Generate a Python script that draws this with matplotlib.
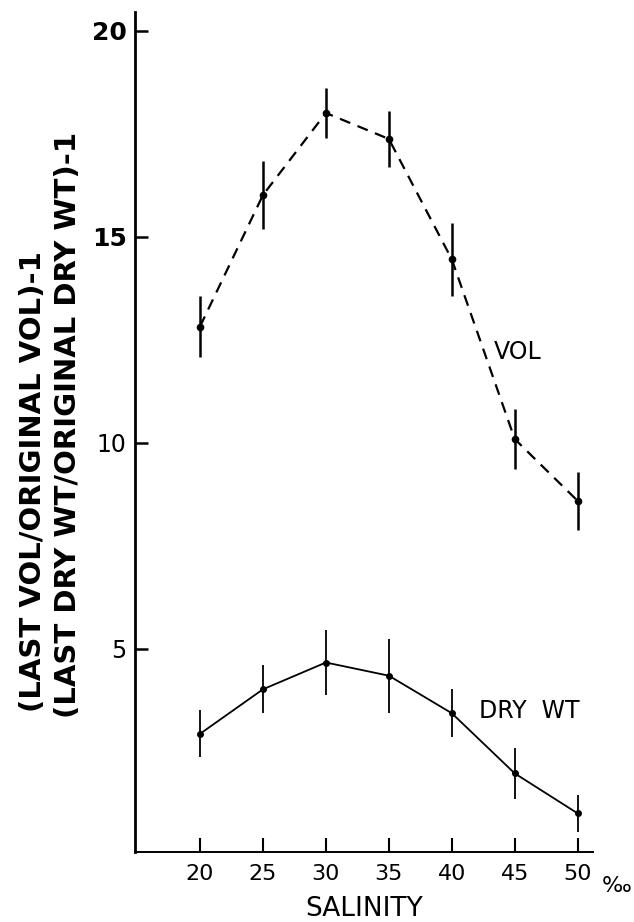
import matplotlib
matplotlib.use('Agg')
import matplotlib.pyplot as plt
import matplotlib.transforms as mtransforms

# salinity (per mille)
salinity = [20, 25, 30, 35, 40, 45, 50]

# (last vol / original vol) - 1
vol = [12.82, 16.01, 18.0, 17.37, 14.45, 10.09, 8.59]
vol_err = [0.73, 0.83, 0.6, 0.68, 0.89, 0.73, 0.7]

# (last dry wt / original dry wt) - 1
dry_wt = [2.94, 4.02, 4.67, 4.35, 3.44, 1.98, 1.01]
dry_wt_err = [0.57, 0.58, 0.8, 0.9, 0.58, 0.62, 0.45]

y_ticks = [5, 10, 15, 20]

plt.rcParams['font.family'] = ['DejaVu Sans']

fig = plt.figure(figsize=(6.34, 9.22), dpi=100)
ax = fig.add_axes([0.213, 0.076, 0.722, 0.911])

ax.errorbar(salinity, vol, yerr=vol_err, color='k', linestyle=(0, (5, 3.5)),
            linewidth=1.6, elinewidth=1.8, capsize=0, marker='o', markersize=4.5)
ax.errorbar(salinity, dry_wt, yerr=dry_wt_err, color='k', linestyle='-',
            linewidth=1.3, elinewidth=1.3, capsize=0, marker='o', markersize=4)

ax.text(43.3, 12.2, 'VOL', fontsize=17, ha='left', va='center')
ax.text(42.2, 3.5, 'DRY  WT', fontsize=17, ha='left', va='center')

ax.set_xlim(14.84, 51.2)
ax.set_ylim(0.075, 20.45)
ax.set_xticks(salinity)
ax.set_xticklabels([str(s) for s in salinity], fontsize=16)
ax.set_yticks(y_ticks)
ax.set_yticklabels([str(t) for t in y_ticks], fontsize=17)
for lbl in ax.get_yticklabels():
    if lbl.get_text() in ('15', '20'):
        lbl.set_fontweight('bold')
        lbl.set_fontsize(18)

ax.tick_params(axis='x', direction='in', length=10, width=1.5, pad=9)
ax.tick_params(axis='y', direction='in', length=9, width=1.8, pad=6)

for side in ['top', 'right']:
    ax.spines[side].set_visible(False)
ax.spines['left'].set_linewidth(2.0)
ax.spines['bottom'].set_linewidth(1.4)

ax.set_xlabel('SALINITY', fontsize=19, labelpad=8)
ax.text(53.1, -0.041, '‰', fontsize=16, ha='center', va='center',
        transform=mtransforms.blended_transform_factory(ax.transData, ax.transAxes),
        clip_on=False)

fig.text(0.052, 0.478, '(LAST VOL/ORIGINAL VOL)-1', rotation=90,
         fontsize=21, fontweight='bold', ha='center', va='center')
fig.text(0.107, 0.539, '(LAST DRY WT/ORIGINAL DRY WT)-1', rotation=90,
         fontsize=21, fontweight='bold', ha='center', va='center')

fig.savefig('out.png', dpi=100)
